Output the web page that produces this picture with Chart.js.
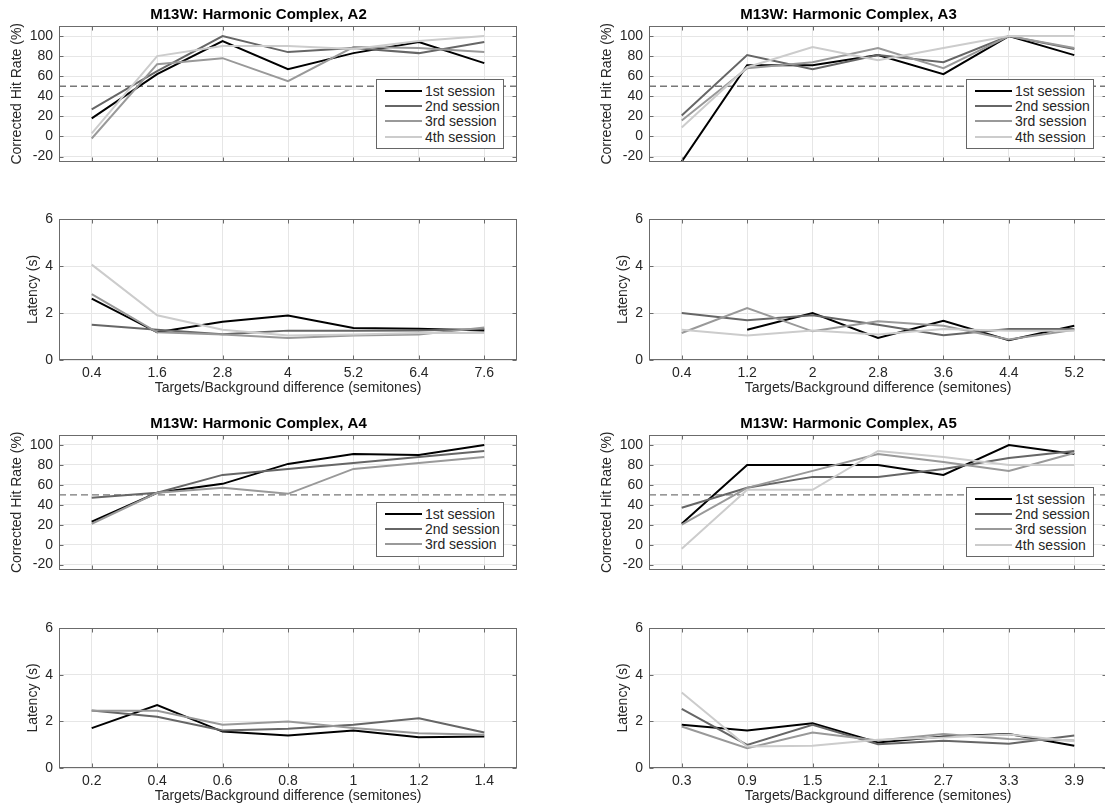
<!DOCTYPE html>
<html>
<head>
<meta charset="utf-8">
<script src="https://cdn.jsdelivr.net/npm/chart.js@4.4.1/dist/chart.umd.min.js"></script>
<style>
  body { margin: 0; background: #fff; overflow: hidden; }
  #figure { position: relative; width: 1105px; height: 807px; overflow: hidden; background: #fff; }
  #figure canvas { position: absolute; }
  .legend {
    position: absolute;
    background: #fff;
    border: 1px solid #666;
    padding: 3px 3px 4px 8px;
    font: 14px "Liberation Sans", Arial, Helvetica, sans-serif;
    color: #262626;
    white-space: nowrap;
  }
  .legend .row { display: flex; align-items: center; height: 15.3px; }
  .legend .swatch { width: 37px; height: 0; border-top: 2px solid; margin-right: 3px; }
</style>
</head>
<body>
<div id="figure"></div>
<script>
const sessionNames = ['1st session', '2nd session', '3rd session', '4th session'];
const sessionColors = ['#000000', '#666666', '#999999', '#cccccc'];

const hitTicks = [-20, 0, 20, 40, 60, 80, 100];
const latencyTicks = [0, 2, 4, 6];
const chanceLevel = 50;

// A2
const xA2 = [0.4, 1.6, 2.8, 4, 5.2, 6.4, 7.6];
const xLabelsA2 = ['0.4', '1.6', '2.8', '4', '5.2', '6.4', '7.6'];
const hitA2 = [
  [18, 62, 95, 67, 83, 94, 73],
  [27, 65, 100, 84, 88, 83, 94],
  [-2, 72, 78, 55, 89, 88, 84],
  [3, 80, 90, 90, 87, 95, 100]
];
const latA2 = [
  [2.61, 1.18, 1.63, 1.89, 1.36, 1.33, 1.26],
  [1.5, 1.29, 1.1, 1.25, 1.25, 1.26, 1.32],
  [2.8, 1.18, 1.08, 0.94, 1.04, 1.08, 1.38],
  [4.06, 1.9, 1.29, 1.04, 1.08, 1.15, 1.15]
];

// A3
const xA3 = [0.4, 1.2, 2, 2.8, 3.6, 4.4, 5.2];
const xLabelsA3 = ['0.4', '1.2', '2', '2.8', '3.6', '4.4', '5.2'];
const hitA3 = [
  [-25, 71, 71, 81, 62, 100, 81],
  [21, 81, 67, 81, 74, 100, 87],
  [16, 68, 74, 88, 68, 100, 88],
  [9, 69, 89, 76, 88, 100, 100]
];
const latA3 = [
  [null, 1.29, 2.0, 0.94, 1.67, 0.84, 1.46],
  [2.0, 1.69, 1.9, 1.5, 1.05, 1.32, 1.32],
  [1.15, 2.21, 1.22, 1.65, 1.46, 0.87, 1.29],
  [1.29, 1.04, 1.25, 1.08, 1.32, 1.25, 1.25]
];

// A4
const xA4 = [0.2, 0.4, 0.6, 0.8, 1, 1.2, 1.4];
const xLabelsA4 = ['0.2', '0.4', '0.6', '0.8', '1', '1.2', '1.4'];
const hitA4 = [
  [23, 52, 61, 81, 91, 90, 100],
  [47, 52, 70, 76, 82, 88, 94],
  [21, 52, 57, 51, 76, 82, 88]
];
const latA4 = [
  [1.71, 2.7, 1.56, 1.39, 1.61, 1.32, 1.35],
  [2.46, 2.2, 1.61, 1.68, 1.85, 2.13, 1.52],
  [2.45, 2.45, 1.85, 1.99, 1.71, 1.49, 1.42]
];

// A5
const xA5 = [0.3, 0.9, 1.5, 2.1, 2.7, 3.3, 3.9];
const xLabelsA5 = ['0.3', '0.9', '1.5', '2.1', '2.7', '3.3', '3.9'];
const hitA5 = [
  [21, 80, 80, 80, 70, 100, 91],
  [37, 57, 68, 68, 76, 87, 94],
  [20, 57, 74, 91, 83, 74, 92],
  [-4, 55, 55, 94, 88, 80, 80]
];
const latA5 = [
  [1.85, 1.61, 1.92, 1.09, 1.35, 1.46, 0.95],
  [2.53, 0.99, 1.85, 1.02, 1.17, 1.04, 1.39],
  [1.78, 0.85, 1.52, 1.18, 1.46, 1.24, 1.18],
  [3.24, 0.92, 0.95, 1.21, 1.31, 1.44, 1.15]
];

const FONT = '"Liberation Sans", Arial, Helvetica, sans-serif';
const INK = '#262626';
const GRID = '#e6e6e6';
const BOX = '#6b6b6b';
const X_TITLE = 'Targets/Background difference (semitones)';

Chart.defaults.font.family = FONT;
Chart.defaults.font.size = 14;
Chart.defaults.color = INK;

// matlab-style box around the axes with inward ticks
const axesBox = {
  id: 'axesBox',
  afterDatasetsDraw(chart) {
    const { ctx, chartArea: a, scales } = chart;
    const l = Math.round(a.left) + 0.5, r = Math.round(a.right) - 0.5;
    const t = Math.round(a.top) + 0.5, b = Math.round(a.bottom) - 0.5;
    ctx.save();
    ctx.strokeStyle = BOX;
    ctx.lineWidth = 1;
    ctx.strokeRect(l, t, r - l, b - t);
    ctx.beginPath();
    scales.x.ticks.forEach(tk => {
      const px = Math.round(scales.x.getPixelForValue(tk.value)) + 0.5;
      ctx.moveTo(px, b); ctx.lineTo(px, b - 4);
      ctx.moveTo(px, t); ctx.lineTo(px, t + 4);
    });
    scales.y.ticks.forEach(tk => {
      const py = Math.round(scales.y.getPixelForValue(tk.value)) + 0.5;
      ctx.moveTo(l, py); ctx.lineTo(l + 4, py);
      ctx.moveTo(r, py); ctx.lineTo(r - 4, py);
    });
    ctx.stroke();
    ctx.restore();
  }
};

const figure = document.getElementById('figure');

function drawPanel(p) {
  const canvas = document.createElement('canvas');
  canvas.width = 576;
  canvas.height = p.height;
  canvas.style.left = p.left + 'px';
  canvas.style.top = p.top + 'px';
  figure.appendChild(canvas);

  const step = p.xVals[1] - p.xVals[0];
  const xMin = p.xVals[0] - step / 2;
  const xMax = p.xVals[p.xVals.length - 1] + step / 2;

  const datasets = p.series.map((vals, i) => ({
    label: sessionNames[i],
    data: p.xVals.map((x, j) => ({ x: x, y: vals[j] })),
    borderColor: sessionColors[i],
    borderWidth: 2,
    pointRadius: 0,
    tension: 0,
    fill: false,
    order: p.series.length - i
  }));
  if (p.chance !== undefined) {
    datasets.push({
      label: 'chance',
      data: [{ x: xMin, y: p.chance }, { x: xMax, y: p.chance }],
      borderColor: '#777777',
      borderWidth: 1.3,
      borderDash: [7, 4],
      pointRadius: 0,
      order: 20
    });
  }

  const chart = new Chart(canvas, {
    type: 'line',
    data: { datasets },
    plugins: [axesBox],
    options: {
      responsive: false,
      animation: false,
      layout: { padding: { top: p.padTop, right: 59, left: 0, bottom: 0 } },
      plugins: {
        legend: { display: false },
        tooltip: { enabled: false },
        title: {
          display: !!p.title,
          text: p.title,
          color: '#000',
          font: { size: 15, weight: 'bold' },
          padding: { top: 6, bottom: 2 }
        }
      },
      scales: {
        x: {
          type: 'linear',
          min: xMin,
          max: xMax,
          afterBuildTicks: s => { s.ticks = p.xVals.map(v => ({ value: v })); },
          afterFit: s => { s.height = p.showX ? 40 : 10; },
          grid: { color: GRID, drawTicks: false },
          border: { display: false },
          ticks: {
            display: p.showX,
            padding: 5,
            maxRotation: 0,
            autoSkip: false,
            callback: (v, i) => p.xLabels[i]
          },
          title: { display: p.showX, text: X_TITLE, padding: { top: 0, bottom: 3.6 } }
        },
        y: {
          min: p.yMin,
          max: p.yMax,
          afterBuildTicks: s => { s.ticks = p.yTicks.map(v => ({ value: v })); },
          afterFit: s => { s.width = 59; },
          grid: { color: GRID, drawTicks: false },
          border: { display: false },
          ticks: { padding: 6, callback: v => String(v) },
          title: { display: true, text: p.yTitle, padding: { top: p.yTitlePad, bottom: 0 } }
        }
      }
    }
  });

  if (p.legend) {
    const box = document.createElement('div');
    box.className = 'legend';
    p.series.forEach((_, i) => {
      const row = document.createElement('div');
      row.className = 'row';
      const sw = document.createElement('span');
      sw.className = 'swatch';
      sw.style.borderTopColor = sessionColors[i];
      const txt = document.createElement('span');
      txt.textContent = sessionNames[i];
      row.appendChild(sw);
      row.appendChild(txt);
      box.appendChild(row);
    });
    figure.appendChild(box);
    const a = chart.chartArea;
    box.style.left = (p.left + a.right - 13 - box.offsetWidth) + 'px';
    box.style.top = (p.top + a.bottom - 12.5 - box.offsetHeight) + 'px';
  }
  return chart;
}

const COL = [0, 590];

function hitPanel(col, top, height, title, xVals, xLabels, series) {
  drawPanel({
    left: COL[col], top, height, padTop: 0, title, xVals, xLabels, series,
    showX: false, yMin: -25, yMax: 110, yTicks: hitTicks,
    yTitle: 'Corrected Hit Rate (%)', yTitlePad: 9.2, chance: chanceLevel, legend: true
  });
}

function latencyPanel(col, top, height, padTop, xVals, xLabels, series) {
  drawPanel({
    left: COL[col], top, height, padTop, xVals, xLabels, series,
    showX: true, yMin: 0, yMax: 6, yTicks: latencyTicks,
    yTitle: 'Latency (s)', yTitlePad: 25.1, legend: false
  });
}

hitPanel(0, 0, 176, 'M13W: Harmonic Complex, A2', xA2, xLabelsA2, hitA2);
latencyPanel(0, 200, 200, 19, xA2, xLabelsA2, latA2);
hitPanel(1, 0, 176, 'M13W: Harmonic Complex, A3', xA3, xLabelsA3, hitA3);
latencyPanel(1, 200, 200, 19, xA3, xLabelsA3, latA3);
hitPanel(0, 409, 175, 'M13W: Harmonic Complex, A4', xA4, xLabelsA4, hitA4);
latencyPanel(0, 610, 198, 18, xA4, xLabelsA4, latA4);
hitPanel(1, 409, 175, 'M13W: Harmonic Complex, A5', xA5, xLabelsA5, hitA5);
latencyPanel(1, 610, 198, 18, xA5, xLabelsA5, latA5);
</script>
</body>
</html>
